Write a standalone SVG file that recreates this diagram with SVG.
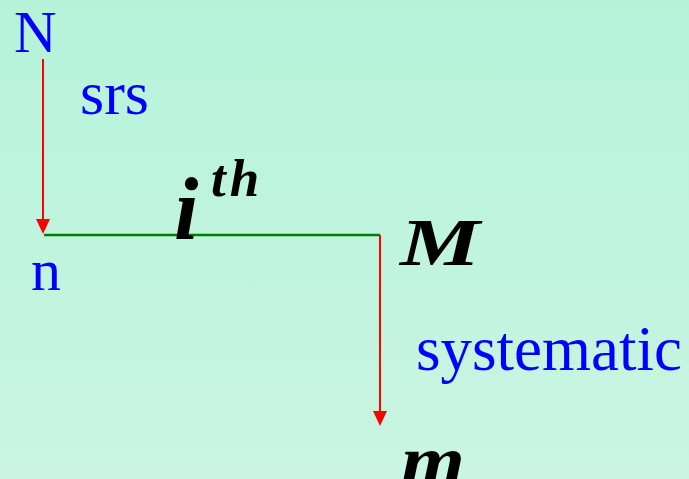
<svg xmlns="http://www.w3.org/2000/svg" width="689" height="479" viewBox="0 0 689 479">
<defs>
<linearGradient id="bg" x1="0" y1="0" x2="0" y2="1">
<stop offset="0" stop-color="#b5f3d9"/>
<stop offset="1" stop-color="#caf5e3"/>
</linearGradient>
<style>
.blue{font-family:"Liberation Serif","Times New Roman",serif;fill:#0000ff;}
.math{font-family:"Liberation Serif","Times New Roman",serif;font-weight:bold;font-style:italic;fill:#000000;}
.red{stroke:#ff0000;stroke-width:2;fill:none;}
.green{stroke:#008000;stroke-width:2.5;fill:none;}
.head{fill:#ff0000;}
</style>
</defs>
<rect x="0" y="0" width="689" height="479" fill="url(#bg)"/>
<g id="connectors">
<line class="red" x1="43" y1="59" x2="43" y2="219"/>
<path class="head" d="M36,219 L50,219 L43,234 Z"/>
<line class="green" x1="44" y1="235" x2="380" y2="235"/>
<line class="red" x1="380" y1="235" x2="380" y2="411"/>
<path class="head" d="M373,411 L387,411 L380,426 Z"/>
</g>
<g id="node-N"><text class="blue" x="14" y="52" font-size="59">N</text></g>
<g id="label-srs"><text class="blue" x="80" y="114" font-size="62">srs</text></g>
<g id="node-n"><text class="blue" x="31" y="290" font-size="60">n</text></g>
<g id="label-ith"><text class="math" x="174" y="239" font-size="88">i</text><text class="math" x="211" y="196" font-size="53" letter-spacing="4">th</text></g>
<g id="node-M"><text class="math" x="400" y="265" font-size="68" textLength="80" lengthAdjust="spacingAndGlyphs">M</text></g>
<g id="label-systematic"><text class="blue" x="416" y="370" font-size="63">systematic</text></g>
<g id="node-m"><text class="math" x="401" y="484" font-size="70" textLength="64" lengthAdjust="spacingAndGlyphs">m</text></g>
</svg>
